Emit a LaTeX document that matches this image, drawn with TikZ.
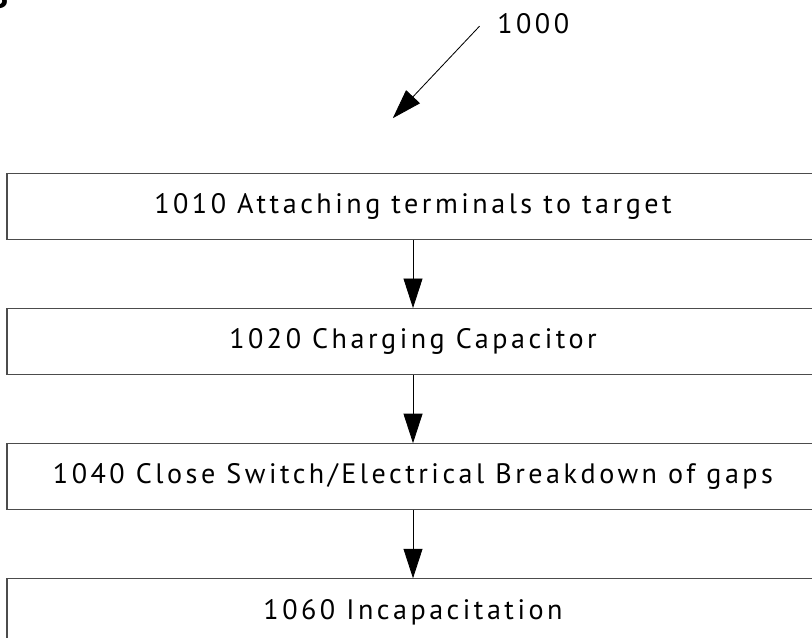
\documentclass[tikz,border=0pt]{standalone}
\usepackage{fontspec}
\setmainfont[LetterSpace=12.5]{PT Sans}
\usetikzlibrary{positioning,arrows.meta}

\newcommand*{\xmin}{0}
\newcommand*{\xmax}{20.3}
\newcommand*{\ymin}{0}
\newcommand*{\ymax}{15.925}

\begin{document}
\begin{tikzpicture}
[
	stepbox/.style={draw=black!70,line width=0.8pt,minimum width=20.3cm,minimum height=1.65cm,inner sep=0pt,font=\fontsize{20}{24}\selectfont},
	flow/.style={-{Triangle[length=21pt,width=13.5pt]},line width=0.6pt},
	node distance=1.7cm
]

	\useasboundingbox (\xmin,\ymin) rectangle (\xmax,\ymax);

	% figure letter, mostly off the page
	\node[anchor=base east,font=\fontsize{24}{28}\selectfont\bfseries] (fig) at (0.33,15.72) {B};

	% reference numeral with leader
	\node[font=\fontsize{20}{24}\selectfont] (ref) at (13.33,15.33) {1000};
	\coordinate (tip) at (9.82,12.97);
	\draw[flow] ([xshift=-0.32cm,yshift=-0.06cm]ref.west) -- (tip);

	% steps
	\node[stepbox] (attach) at (10.325,10.7625) {1010 Attaching terminals to target};
	\node[stepbox,below=of attach] (charge) {1020 Charging Capacitor};
	\node[stepbox,below=of charge] (breakdown) {1040 Close Switch/Electrical Breakdown of gaps};
	\node[stepbox,below=of breakdown] (incap) {1060 Incapacitation};

	\draw[flow] (attach) -- (charge);
	\draw[flow] (charge) -- (breakdown);
	\draw[flow] (breakdown) -- (incap);

\end{tikzpicture}
\end{document}
